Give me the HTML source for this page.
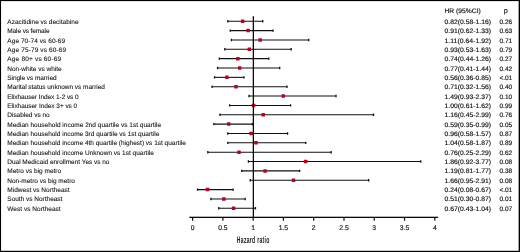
<!DOCTYPE html>
<html><head><meta charset="utf-8"><title>Forest plot</title>
<style>
html,body{margin:0;padding:0;background:#fff;}
body{width:520px;height:252px;overflow:hidden;}
svg{display:block;text-rendering:geometricPrecision;font-family:"Liberation Sans",Arial,Helvetica,sans-serif;}
.t{font-size:6.5px;fill:#111;stroke:#111;stroke-width:0.15px;}
.l{stroke-width:0.08px;}
.ci{stroke:#111;stroke-width:1.08;fill:none;}
.cap{stroke:#111;stroke-width:1.3;fill:none;}
.m{fill:#b3051f;}
</style></head><body>
<svg width="520" height="252" viewBox="0 0 520 252">
<rect x="0" y="0" width="520" height="252" fill="#fff"/>

<rect x="0" y="0" width="520" height="1.1" fill="#000"/>
<rect x="0" y="0" width="1.05" height="252" fill="#000"/>
<rect x="518.65" y="0" width="1.35" height="252" fill="#000"/>
<rect x="0" y="250.8" width="520" height="1.2" fill="#000"/>
<text class="t" x="444.5" y="13" textLength="36.3" lengthAdjust="spacingAndGlyphs">HR (95%CI)</text>
<text class="t" x="505.8" y="13.4" text-anchor="middle" style="font-size:7.2px">p</text>
<text class="t l" x="7.3" y="23.80" textLength="71.25">Azacitidine vs decitabine</text>
<path class="ci" d="M227.72 21.25H262.84"/>
<path class="cap" d="M227.82 20.05v2.4M262.74 20.05v2.4"/>
<rect class="m" x="240.90" y="19.50" width="3.5" height="3.5" rx="0.5"/>
<text class="t" x="444.5" y="23.80" textLength="46.6" lengthAdjust="spacingAndGlyphs">0.82(0.58-1.16)</text>
<text class="t" x="505.8" y="23.80" text-anchor="middle">0.26</text>
<text class="t l" x="7.3" y="33.15" textLength="42.25">Male vs female</text>
<path class="ci" d="M230.14 30.60H273.13"/>
<path class="cap" d="M230.24 29.40v2.4M273.03 29.40v2.4"/>
<rect class="m" x="246.35" y="28.85" width="3.5" height="3.5" rx="0.5"/>
<text class="t" x="444.5" y="33.15" textLength="46.6" lengthAdjust="spacingAndGlyphs">0.91(0.62-1.33)</text>
<text class="t" x="505.8" y="33.15" text-anchor="middle">0.63</text>
<text class="t l" x="7.3" y="42.50" textLength="57.85">Age 70-74 vs 60-69</text>
<path class="ci" d="M231.35 39.95H308.86"/>
<path class="cap" d="M231.45 38.75v2.4M308.76 38.75v2.4"/>
<rect class="m" x="258.46" y="38.20" width="3.5" height="3.5" rx="0.5"/>
<text class="t" x="444.5" y="42.50" textLength="46.6" lengthAdjust="spacingAndGlyphs">1.11(0.64-1.92)</text>
<text class="t" x="505.8" y="42.50" text-anchor="middle">0.71</text>
<text class="t l" x="7.3" y="51.86" textLength="58.85">Age 75-79 vs 60-69</text>
<path class="ci" d="M224.69 49.31H291.30"/>
<path class="cap" d="M224.79 48.11v2.4M291.20 48.11v2.4"/>
<rect class="m" x="247.56" y="47.56" width="3.5" height="3.5" rx="0.5"/>
<text class="t" x="444.5" y="51.86" textLength="46.6" lengthAdjust="spacingAndGlyphs">0.93(0.53-1.63)</text>
<text class="t" x="505.8" y="51.86" text-anchor="middle">0.79</text>
<text class="t l" x="7.3" y="61.21" textLength="53.85">Age 80+ vs 60-69</text>
<path class="ci" d="M219.24 58.66H268.89"/>
<path class="cap" d="M219.34 57.46v2.4M268.79 57.46v2.4"/>
<rect class="m" x="236.06" y="56.91" width="3.5" height="3.5" rx="0.5"/>
<text class="t" x="444.5" y="61.21" textLength="46.6" lengthAdjust="spacingAndGlyphs">0.74(0.44-1.26)</text>
<text class="t" x="505.8" y="61.21" text-anchor="middle">0.27</text>
<text class="t l" x="7.3" y="70.56" textLength="54.35">Non-white vs white</text>
<path class="ci" d="M217.43 68.01H279.79"/>
<path class="cap" d="M217.53 66.81v2.4M279.69 66.81v2.4"/>
<rect class="m" x="237.87" y="66.26" width="3.5" height="3.5" rx="0.5"/>
<text class="t" x="444.5" y="70.56" textLength="46.6" lengthAdjust="spacingAndGlyphs">0.77(0.41-1.44)</text>
<text class="t" x="505.8" y="70.56" text-anchor="middle">0.42</text>
<text class="t l" x="7.3" y="79.91" textLength="49.35">Single vs married</text>
<path class="ci" d="M214.40 77.36H244.07"/>
<path class="cap" d="M214.50 76.16v2.4M243.97 76.16v2.4"/>
<rect class="m" x="225.16" y="75.61" width="3.5" height="3.5" rx="0.5"/>
<text class="t" x="444.5" y="79.91" textLength="46.6" lengthAdjust="spacingAndGlyphs">0.56(0.36-0.85)</text>
<text class="t" x="505.8" y="79.91" text-anchor="middle">&lt;.01</text>
<text class="t l" x="7.3" y="89.26" textLength="97.60">Marital status unknown vs married</text>
<path class="ci" d="M211.98 86.71H287.06"/>
<path class="cap" d="M212.08 85.51v2.4M286.96 85.51v2.4"/>
<rect class="m" x="234.24" y="84.96" width="3.5" height="3.5" rx="0.5"/>
<text class="t" x="444.5" y="89.26" textLength="46.6" lengthAdjust="spacingAndGlyphs">0.71(0.32-1.56)</text>
<text class="t" x="505.8" y="89.26" text-anchor="middle">0.40</text>
<text class="t l" x="7.3" y="98.62" textLength="71.35">Elixhauser Index 1-2 vs 0</text>
<path class="ci" d="M248.91 96.07H336.10"/>
<path class="cap" d="M249.01 94.87v2.4M336.00 94.87v2.4"/>
<rect class="m" x="281.47" y="94.32" width="3.5" height="3.5" rx="0.5"/>
<text class="t" x="444.5" y="98.62" textLength="46.6" lengthAdjust="spacingAndGlyphs">1.49(0.93-2.37)</text>
<text class="t" x="505.8" y="98.62" text-anchor="middle">0.10</text>
<text class="t l" x="7.3" y="107.97" textLength="69.85">Elixhauser Index 3+ vs 0</text>
<path class="ci" d="M229.54 105.42H290.69"/>
<path class="cap" d="M229.64 104.22v2.4M290.59 104.22v2.4"/>
<rect class="m" x="251.80" y="103.67" width="3.5" height="3.5" rx="0.5"/>
<text class="t" x="444.5" y="107.97" textLength="46.6" lengthAdjust="spacingAndGlyphs">1.00(0.61-1.62)</text>
<text class="t" x="505.8" y="107.97" text-anchor="middle">0.99</text>
<text class="t l" x="7.3" y="117.32" textLength="42.35">Disabled vs no</text>
<path class="ci" d="M219.85 114.77H373.64"/>
<path class="cap" d="M219.95 113.57v2.4M373.54 113.57v2.4"/>
<rect class="m" x="261.49" y="113.02" width="3.5" height="3.5" rx="0.5"/>
<text class="t" x="444.5" y="117.32" textLength="46.6" lengthAdjust="spacingAndGlyphs">1.16(0.45-2.99)</text>
<text class="t" x="505.8" y="117.32" text-anchor="middle">0.76</text>
<text class="t l" x="7.3" y="126.67" textLength="153.85">Median household income 2nd quartile vs 1st quartile</text>
<path class="ci" d="M213.79 124.12H252.54"/>
<path class="cap" d="M213.89 122.92v2.4M252.44 122.92v2.4"/>
<rect class="m" x="226.97" y="122.37" width="3.5" height="3.5" rx="0.5"/>
<text class="t" x="444.5" y="126.67" textLength="46.6" lengthAdjust="spacingAndGlyphs">0.59(0.35-0.99)</text>
<text class="t" x="505.8" y="126.67" text-anchor="middle">0.05</text>
<text class="t l" x="7.3" y="136.02" textLength="152.10">Median household income 3rd quartile vs 1st quartile</text>
<path class="ci" d="M227.72 133.47H287.66"/>
<path class="cap" d="M227.82 132.27v2.4M287.56 132.27v2.4"/>
<rect class="m" x="249.38" y="131.72" width="3.5" height="3.5" rx="0.5"/>
<text class="t" x="444.5" y="136.02" textLength="46.6" lengthAdjust="spacingAndGlyphs">0.96(0.58-1.57)</text>
<text class="t" x="505.8" y="136.02" text-anchor="middle">0.87</text>
<text class="t l" x="7.3" y="145.38" textLength="178.60">Median household income 4th quartile (highest) vs 1st quartile</text>
<path class="ci" d="M227.72 142.83H305.83"/>
<path class="cap" d="M227.82 141.63v2.4M305.73 141.63v2.4"/>
<rect class="m" x="254.22" y="141.08" width="3.5" height="3.5" rx="0.5"/>
<text class="t" x="444.5" y="145.38" textLength="46.6" lengthAdjust="spacingAndGlyphs">1.04(0.58-1.87)</text>
<text class="t" x="505.8" y="145.38" text-anchor="middle">0.89</text>
<text class="t l" x="7.3" y="154.73" textLength="146.60">Median household income Unknown vs 1st quartile</text>
<path class="ci" d="M207.74 152.18H331.26"/>
<path class="cap" d="M207.84 150.98v2.4M331.16 150.98v2.4"/>
<rect class="m" x="237.27" y="150.43" width="3.5" height="3.5" rx="0.5"/>
<text class="t" x="444.5" y="154.73" textLength="46.6" lengthAdjust="spacingAndGlyphs">0.76(0.25-2.29)</text>
<text class="t" x="505.8" y="154.73" text-anchor="middle">0.62</text>
<text class="t l" x="7.3" y="164.08" textLength="102.10">Dual Medicaid enrollment Yes vs no</text>
<path class="ci" d="M248.31 161.53H420.87"/>
<path class="cap" d="M248.41 160.33v2.4M420.77 160.33v2.4"/>
<rect class="m" x="303.87" y="159.78" width="3.5" height="3.5" rx="0.5"/>
<text class="t" x="444.5" y="164.08" textLength="46.6" lengthAdjust="spacingAndGlyphs">1.86(0.92-3.77)</text>
<text class="t" x="505.8" y="164.08" text-anchor="middle">0.08</text>
<text class="t l" x="7.3" y="173.43" textLength="53.85">Metro vs big metro</text>
<path class="ci" d="M241.65 170.88H299.77"/>
<path class="cap" d="M241.75 169.68v2.4M299.67 169.68v2.4"/>
<rect class="m" x="263.30" y="169.13" width="3.5" height="3.5" rx="0.5"/>
<text class="t" x="444.5" y="173.43" textLength="46.6" lengthAdjust="spacingAndGlyphs">1.19(0.81-1.77)</text>
<text class="t" x="505.8" y="173.43" text-anchor="middle">0.38</text>
<text class="t l" x="7.3" y="182.78" textLength="67.60">Non-metro vs big metro</text>
<path class="ci" d="M250.12 180.23H368.80"/>
<path class="cap" d="M250.22 179.03v2.4M368.70 179.03v2.4"/>
<rect class="m" x="291.76" y="178.48" width="3.5" height="3.5" rx="0.5"/>
<text class="t" x="444.5" y="182.78" textLength="46.6" lengthAdjust="spacingAndGlyphs">1.66(0.95-2.91)</text>
<text class="t" x="505.8" y="182.78" text-anchor="middle">0.08</text>
<text class="t l" x="7.3" y="192.14" textLength="62.35">Midwest vs Northeast</text>
<path class="ci" d="M197.44 189.59H233.17"/>
<path class="cap" d="M197.54 188.39v2.4M233.07 188.39v2.4"/>
<rect class="m" x="205.78" y="187.84" width="3.5" height="3.5" rx="0.5"/>
<text class="t" x="444.5" y="192.14" textLength="46.6" lengthAdjust="spacingAndGlyphs">0.24(0.08-0.67)</text>
<text class="t" x="505.8" y="192.14" text-anchor="middle">&lt;.01</text>
<text class="t l" x="7.3" y="201.49" textLength="55.10">South vs Northeast</text>
<path class="ci" d="M210.76 198.94H245.28"/>
<path class="cap" d="M210.86 197.74v2.4M245.18 197.74v2.4"/>
<rect class="m" x="222.13" y="197.19" width="3.5" height="3.5" rx="0.5"/>
<text class="t" x="444.5" y="201.49" textLength="46.6" lengthAdjust="spacingAndGlyphs">0.51(0.30-0.87)</text>
<text class="t" x="505.8" y="201.49" text-anchor="middle">0.01</text>
<text class="t l" x="7.3" y="210.84" textLength="53.35">West vs Northeast</text>
<path class="ci" d="M218.64 208.29H255.57"/>
<path class="cap" d="M218.74 207.09v2.4M255.47 207.09v2.4"/>
<rect class="m" x="231.82" y="206.54" width="3.5" height="3.5" rx="0.5"/>
<text class="t" x="444.5" y="210.84" textLength="46.6" lengthAdjust="spacingAndGlyphs">0.67(0.43-1.04)</text>
<text class="t" x="505.8" y="210.84" text-anchor="middle">0.07</text>
<rect x="252.72" y="16.15" width="1.28" height="201.15" fill="#0a0a0a"/>
<rect x="189.3" y="216.7" width="248.7" height="1.3" fill="#0a0a0a"/>
<rect x="192.00" y="217.30" width="1.2" height="3.4" fill="#0a0a0a"/>
<text class="t" x="192.60" y="229.9" text-anchor="middle" style="font-size:6.8px">0</text>
<rect x="222.28" y="217.30" width="1.2" height="3.4" fill="#0a0a0a"/>
<text class="t" x="222.88" y="229.9" text-anchor="middle" style="font-size:6.8px">0.5</text>
<rect x="252.55" y="217.30" width="1.2" height="3.4" fill="#0a0a0a"/>
<text class="t" x="253.15" y="229.9" text-anchor="middle" style="font-size:6.8px">1</text>
<rect x="282.82" y="217.30" width="1.2" height="3.4" fill="#0a0a0a"/>
<text class="t" x="283.42" y="229.9" text-anchor="middle" style="font-size:6.8px">1.5</text>
<rect x="313.10" y="217.30" width="1.2" height="3.4" fill="#0a0a0a"/>
<text class="t" x="313.70" y="229.9" text-anchor="middle" style="font-size:6.8px">2</text>
<rect x="343.38" y="217.30" width="1.2" height="3.4" fill="#0a0a0a"/>
<text class="t" x="343.98" y="229.9" text-anchor="middle" style="font-size:6.8px">2.5</text>
<rect x="373.65" y="217.30" width="1.2" height="3.4" fill="#0a0a0a"/>
<text class="t" x="374.25" y="229.9" text-anchor="middle" style="font-size:6.8px">3</text>
<rect x="403.92" y="217.30" width="1.2" height="3.4" fill="#0a0a0a"/>
<text class="t" x="404.52" y="229.9" text-anchor="middle" style="font-size:6.8px">3.5</text>
<rect x="434.20" y="217.30" width="1.2" height="3.4" fill="#0a0a0a"/>
<text class="t" x="434.80" y="229.9" text-anchor="middle" style="font-size:6.8px">4</text>
<text x="253.15" y="242.5" text-anchor="middle" font-size="9.5" font-weight="bold" letter-spacing="0.58" fill="#222" transform="translate(253.25 0) scale(0.53 1) translate(-253.15 0)">Hazard ratio</text>
</svg></body></html>
